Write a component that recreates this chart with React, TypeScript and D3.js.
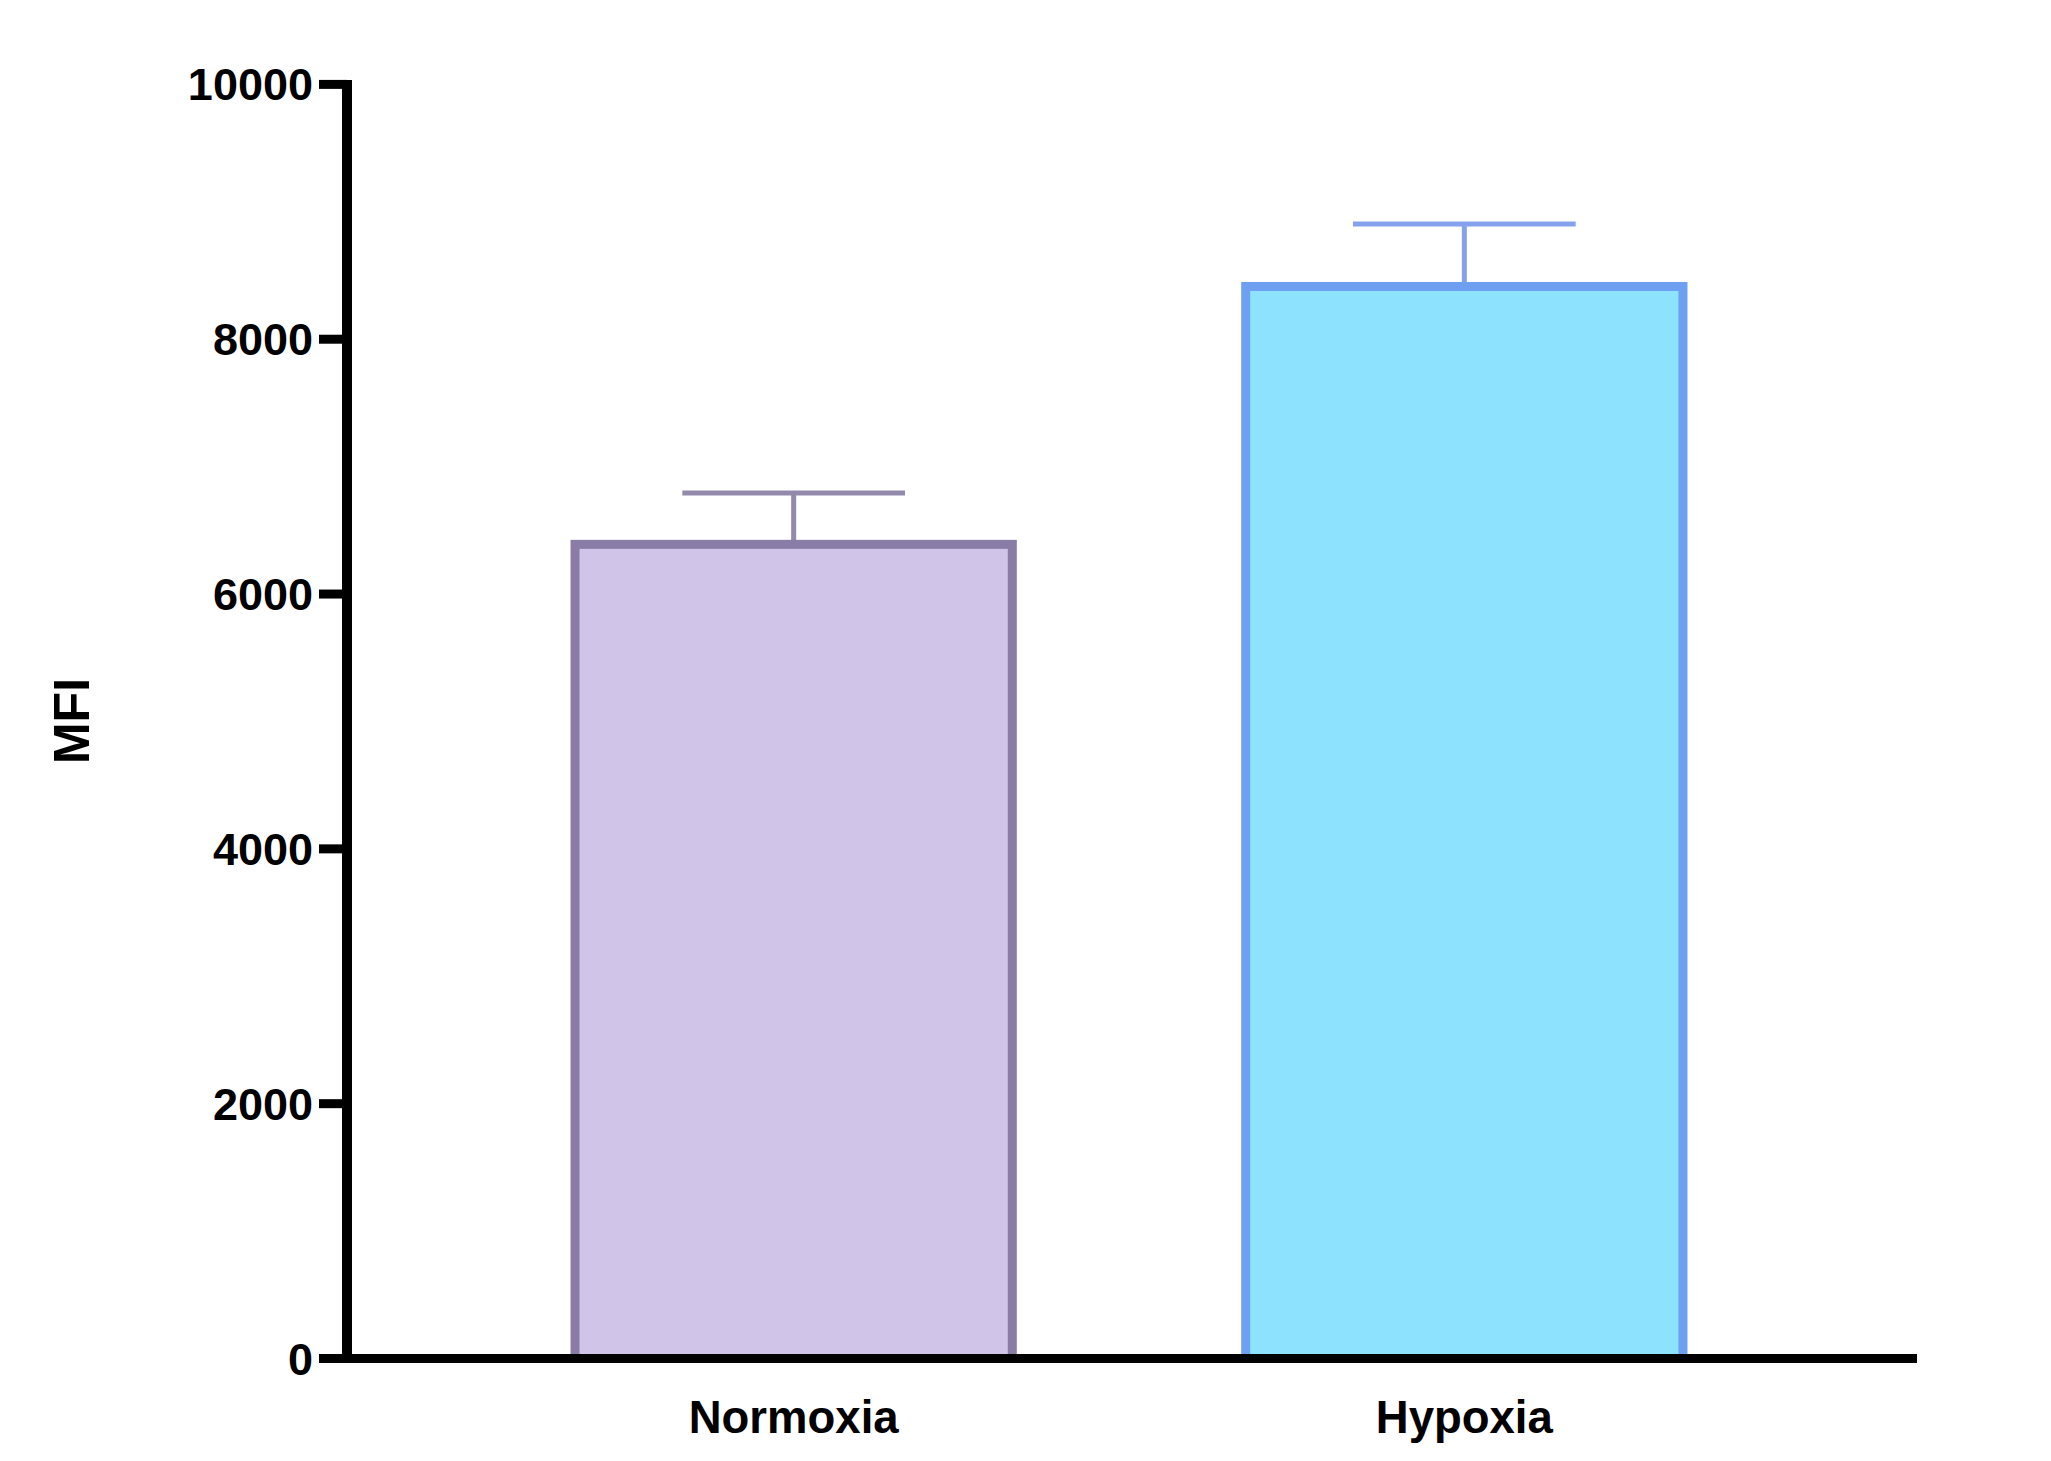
import React from "react";
import * as d3 from "d3";

const categories = ["Normoxia", "Hypoxia"];
const means = [6390, 8414];
const sds = [404, 490];
const fillColors = ["#d0c4e8", "#8de3fd"];
const strokeColors = ["#897ca7", "#6e9ff0"];
const errorColors = ["#9389ab", "#86a2ee"];
const yTicks = [0, 2000, 4000, 6000, 8000, 10000];
const yLabel = "MFI";

const W = 2051;
const H = 1461;
const FONT = "'Liberation Sans', Arial, Helvetica, sans-serif";

export default function App() {
  const axisX = 347;
  const y = d3.scaleLinear().domain([0, 10000]).range([1358.5, 84.4]);
  const x = d3
    .scaleBand<string>()
    .domain(categories)
    .range([axisX, 1911])
    .paddingInner(0.348)
    .paddingOuter(0.34);
  const bw = x.bandwidth();

  return (
    <svg
      width={W}
      height={H}
      viewBox={`0 0 ${W} ${H}`}
      style={{ position: "absolute", left: 0, top: 0, background: "#fff" }}
    >
      <rect x={0} y={0} width={W} height={H} fill="#fff" />
      {categories.map((c, i) => {
        const x0 = x(c)!;
        const cx = x0 + bw / 2;
        const top = y(means[i]);
        const errTop = y(means[i] + sds[i]);
        return (
          <g key={c}>
            <line
              x1={cx}
              x2={cx}
              y1={top}
              y2={errTop}
              stroke={errorColors[i]}
              strokeWidth={5}
            />
            <line
              x1={cx - bw / 4 - 2}
              x2={cx + bw / 4 + 2}
              y1={errTop}
              y2={errTop}
              stroke={errorColors[i]}
              strokeWidth={5}
            />
            <rect
              x={x0}
              y={top}
              width={bw}
              height={y(0) - top}
              fill={fillColors[i]}
              stroke={strokeColors[i]}
              strokeWidth={9}
            />
          </g>
        );
      })}
      {/* y axis */}
      <line x1={axisX} x2={axisX} y1={80} y2={1363} stroke="#000" strokeWidth={10} />
      {yTicks.map((t) => (
        <g key={t}>
          <line x1={319} x2={axisX} y1={y(t)} y2={y(t)} stroke="#000" strokeWidth={9} />
          <text
            x={313}
            y={y(t) + 16}
            textAnchor="end"
            fontFamily={FONT}
            fontWeight="bold"
            fontSize={45}
            fill="#000"
          >
            {t}
          </text>
        </g>
      ))}
      {/* x axis */}
      <line x1={319} x2={1917} y1={y(0)} y2={y(0)} stroke="#000" strokeWidth={9} />
      {categories.map((c) => (
        <text
          key={c}
          x={x(c)! + bw / 2}
          y={1433}
          textAnchor="middle"
          fontFamily={FONT}
          fontWeight="bold"
          fontSize={45.5}
          fill="#000"
        >
          {c}
        </text>
      ))}
      <text
        transform="translate(89,721) rotate(-90)"
        textAnchor="middle"
        fontFamily={FONT}
        fontWeight="bold"
        fontSize={50}
        fill="#000"
      >
        {yLabel}
      </text>
    </svg>
  );
}
